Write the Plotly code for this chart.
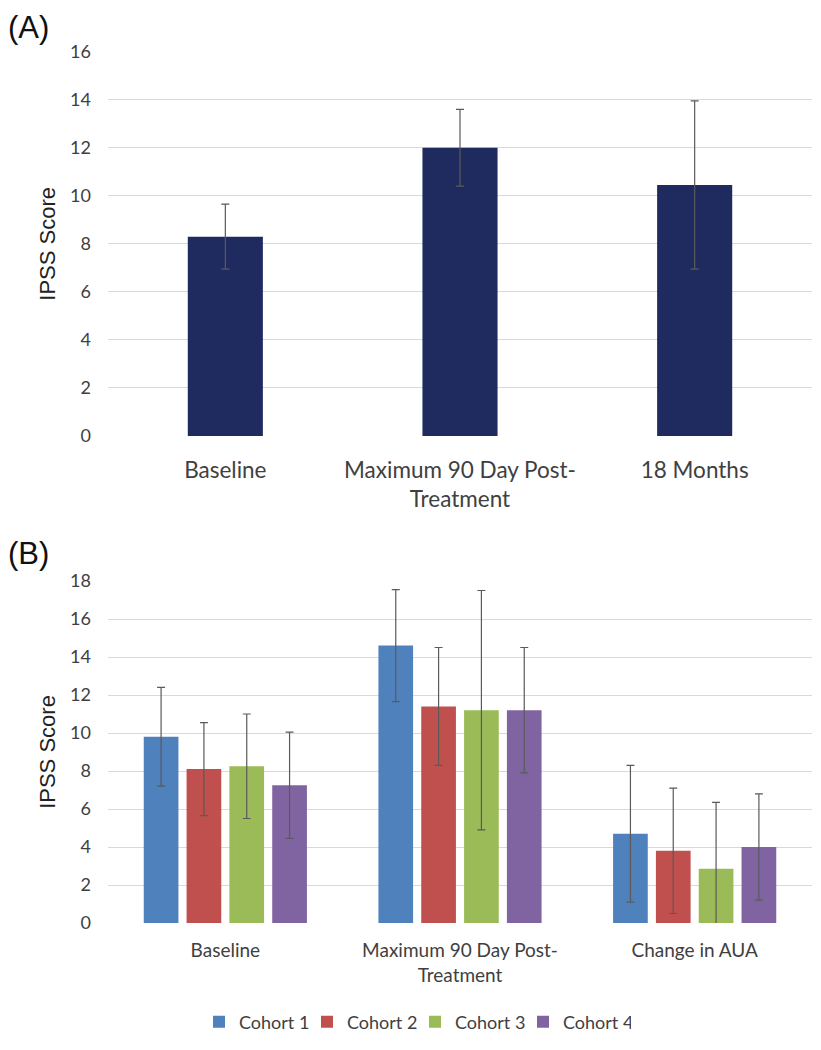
import plotly.graph_objects as go

# Panel A data
a_categories = ["Baseline", "Maximum 90 Day Post-<br>Treatment", "18 Months"]
a_values = [8.3, 12.0, 10.45]
a_errors = [1.35, 1.6, 3.5]

# Panel B data
b_categories = ["Baseline", "Maximum 90 Day Post-<br>Treatment", "Change in AUA"]
cohort_names = ["Cohort 1", "Cohort 2", "Cohort 3", "Cohort 4"]
cohort1 = [9.8, 14.6, 4.7]
cohort2 = [8.1, 11.4, 3.8]
cohort3 = [8.25, 11.2, 2.85]
cohort4 = [7.25, 11.2, 4.0]
cohort1_err = [2.6, 2.95, 3.6]
cohort2_err = [2.45, 3.1, 3.3]
cohort3_err = [2.75, 6.3, 3.5]
cohort4_err = [2.8, 3.3, 2.8]
cohort_colors = ["#4F81BD", "#C0504D", "#9BBB59", "#8064A2"]

FONT = "Lato"
ERR_COLOR = "#5a5a5a"
GRID = "#d9d9d9"

# page body has an 8px margin; lay out in window pixels and convert
OFF = 8
W, H = 821 - OFF, 1050 - OFF


def px_x(x):
    return (x - OFF) / W


def px_y(y):
    return 1 - (y - OFF) / H


fig = go.Figure()

fig.add_trace(go.Bar(
    x=a_categories, y=a_values, width=0.32,
    marker=dict(color="#1F2A5E", line=dict(width=0)),
    error_y=dict(type="data", array=a_errors, color=ERR_COLOR, thickness=1.2, width=4),
    xaxis="x", yaxis="y", showlegend=False,
))

b_vals = [cohort1, cohort2, cohort3, cohort4]
b_errs = [cohort1_err, cohort2_err, cohort3_err, cohort4_err]
for name, vals, errs, col in zip(cohort_names, b_vals, b_errs, cohort_colors):
    fig.add_trace(go.Bar(
        x=b_categories, y=vals, name=name,
        marker=dict(color=col, line=dict(width=0)),
        error_y=dict(type="data", array=errs, color=ERR_COLOR, thickness=1.2, width=4),
        xaxis="x2", yaxis="y2",
    ))

xdom = [px_x(108), px_x(812)]
ya_dom = [px_y(436), px_y(51.7)]
yb_dom = [px_y(923), px_y(581)]

axis_common_x = dict(showgrid=False, showline=False, zeroline=False, ticks="",
                     automargin=False)
axis_common_y = dict(showgrid=True, gridcolor=GRID, gridwidth=1, showline=False,
                     zeroline=False, ticks="", dtick=2, automargin=False,
                     ticklabelstandoff=16,
                     tickfont=dict(family=FONT, size=18, color="#404040"))
ytitle_font = dict(family="Liberation Sans", size=22, color="#222")

fig.update_layout(
    width=W, height=H,
    margin=dict(l=0, r=0, t=0, b=0),
    paper_bgcolor="white", plot_bgcolor="white",
    barmode="group", bargap=0.27, bargroupgap=0.19,
    xaxis=dict(domain=xdom, anchor="y", ticklabelstandoff=18,
               tickfont=dict(family=FONT, size=22.5, color="#404040"), **axis_common_x),
    yaxis=dict(domain=ya_dom, anchor="x", range=[0, 16],
               title=dict(text="IPSS Score", font=ytitle_font, standoff=8),
               **axis_common_y),
    xaxis2=dict(domain=xdom, anchor="y2", ticklabelstandoff=14,
                tickfont=dict(family=FONT, size=19, color="#404040"), **axis_common_x),
    yaxis2=dict(domain=yb_dom, anchor="x2", range=[0, 18],
                title=dict(text="IPSS Score", font=ytitle_font, standoff=8),
                **axis_common_y),
    legend=dict(orientation="h", x=px_x(415), xanchor="center", y=px_y(1022),
                yanchor="middle", font=dict(family=FONT, size=18, color="#404040"),
                itemwidth=30, entrywidth=63, entrywidthmode="pixels",
                traceorder="normal"),
    annotations=[
        dict(text="(A)", x=px_x(6), y=1, xref="paper", yref="paper",
             xanchor="left", yanchor="top", showarrow=False,
             font=dict(family="Liberation Sans", size=31, color="#111")),
        dict(text="(B)", x=px_x(6), y=px_y(553), xref="paper", yref="paper",
             xanchor="left", yanchor="middle", showarrow=False,
             font=dict(family="Liberation Sans", size=31, color="#111")),
    ],
)

fig.write_html("out.html")
